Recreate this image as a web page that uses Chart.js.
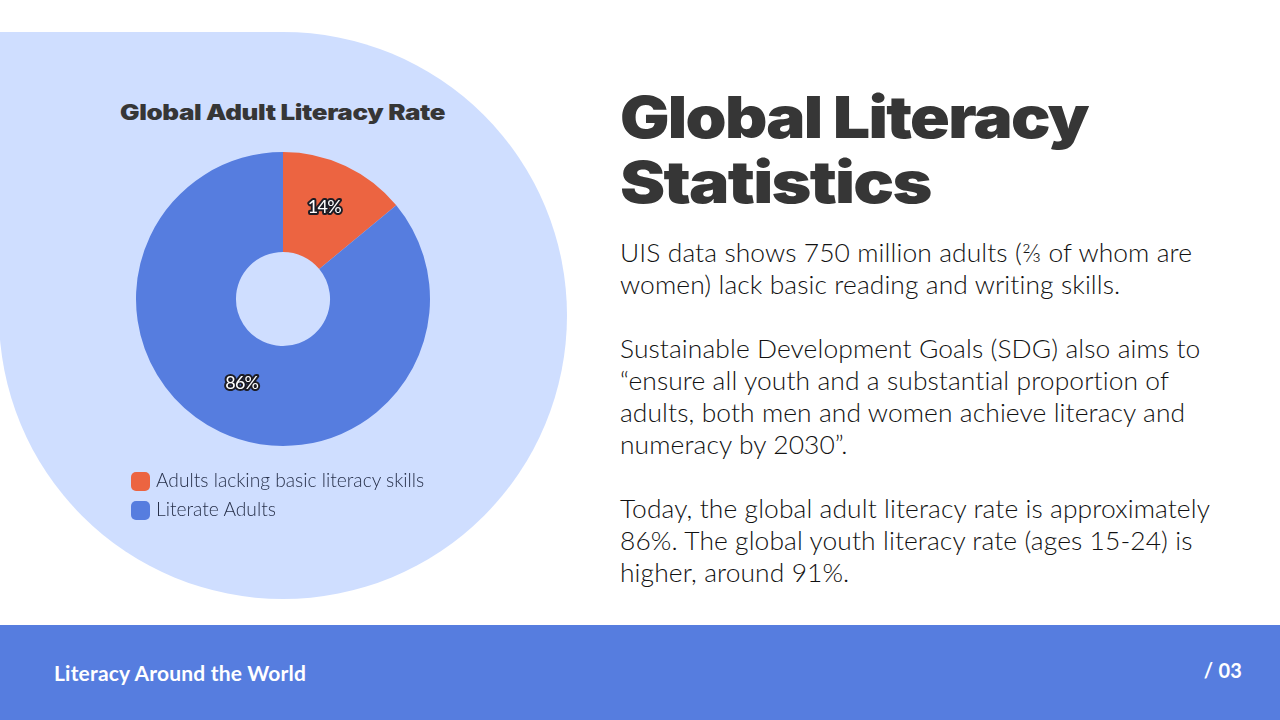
<!DOCTYPE HTML>
<html>
<head>
<meta charset="utf-8" />
<title>Global Literacy Statistics</title>
<script src="https://cdn.jsdelivr.net/npm/chart.js"></script>
<style>
    html, body { margin: 0; padding: 0; width: 1280px; height: 720px; overflow: hidden; background: #ffffff; font-family: "Lato", sans-serif; color: #363636; }
    #blob { position: absolute; left: -1px; top: 32px; width: 568px; height: 567px; background: #cfdeff; border-radius: 0 50% 50% 50%; }
    #chartTitle { position: absolute; left: 120px; top: 99px; font-family: "Inter", sans-serif; font-weight: 900; font-size: 21px; line-height: 28px; white-space: nowrap; letter-spacing: -0.3px; color: #363636; transform-origin: 0 0; transform: scaleX(1.234); }
    #chartBox { position: absolute; left: 83px; top: 130px; width: 400px; height: 340px; }
    #legend { position: absolute; left: 131px; top: 466px; font-size: 19.2px; font-weight: 300; color: #27304a; }
    #legend div { height: 28.5px; line-height: 28.5px; white-space: nowrap; }
    #legend i { display: inline-block; width: 19px; height: 19px; border-radius: 5px; margin-right: 6px; vertical-align: -4px; }
    .head { position: absolute; left: 620px; margin: 0; font-family: "Inter", sans-serif; font-weight: 900; font-size: 58px; line-height: 65px; letter-spacing: -1.5px; color: #363636; transform-origin: 0 0; white-space: nowrap; }
    #body { position: absolute; left: 620px; top: 236px; font-size: 26.4px; font-weight: 300; line-height: 32px; letter-spacing: 0.1px; color: #111; white-space: nowrap; }
    #footer { position: absolute; left: 0; top: 625px; width: 1280px; height: 95px; background: #567ddf; color: #fff; }
    #footer span { position: absolute; top: 35px; font-size: 21px; font-weight: 700; letter-spacing: 0.2px; white-space: nowrap; }
</style>
</head>
<body>
<div id="blob"></div>
<div id="chartTitle">Global Adult Literacy Rate</div>
<div id="chartBox"><canvas id="literacyChart" width="400" height="340"></canvas></div>
<div id="legend"></div>
<h1 class="head" style="top:85px;transform:scaleX(1.133)">Global Literacy</h1>
<h1 class="head" style="top:150px;transform:scaleX(1.17)">Statistics</h1>
<div id="body">UIS data shows 750 million adults (⅔ of whom are<br>women) lack basic reading and writing skills.<br><br>Sustainable Development Goals (SDG) also aims to<br>“ensure all youth and a substantial proportion of<br>adults, both men and women achieve literacy and<br>numeracy by 2030”.<br><br>Today, the global adult literacy rate is approximately<br>86%. The global youth literacy rate (ages 15-24) is<br>higher, around 91%.</div>
<div id="footer"><span style="right:38px;top:33px;font-size:20px">/ 03</span><span style="left:54px">Literacy Around the World</span></div>
<script>
    const labels = ['Adults lacking basic literacy skills', 'Literate Adults'];
    const values = [14, 86];
    const colors = ['#ec6441', '#567ddf'];

    // percent labels sit on the slices, outlined like the reference
    const sliceLabels = {
        id: 'sliceLabels',
        afterDatasetsDraw(chart) {
            const c = chart.ctx;
            chart.getDatasetMeta(0).data.forEach((arc, i) => {
                const p = arc.tooltipPosition();
                c.save();
                c.font = '18px Lato';
                c.letterSpacing = '-0.8px';
                c.textAlign = 'center';
                c.textBaseline = 'middle';
                c.lineWidth = 4;
                c.lineJoin = 'round';
                c.strokeStyle = '#1c1c24';
                c.fillStyle = '#fff';
                c.strokeText(values[i] + '%', p.x, p.y - 4);
                c.fillText(values[i] + '%', p.x, p.y - 4);
                c.restore();
            });
        }
    };

    new Chart(document.getElementById('literacyChart'), {
        type: 'doughnut',
        data: { labels: labels, datasets: [{ data: values, backgroundColor: colors, borderWidth: 0 }] },
        options: {
            responsive: false,
            animation: false,
            cutout: '32%',
            layout: { padding: { top: 22, bottom: 24, left: 53, right: 53 } },
            plugins: { legend: { display: false }, tooltip: { enabled: false } }
        },
        plugins: [sliceLabels]
    });

    document.getElementById('legend').innerHTML = labels.map((l, i) =>
        '<div><i style="background:' + colors[i] + '"></i>' + l + '</div>').join('');
</script>
</body>
</html>
